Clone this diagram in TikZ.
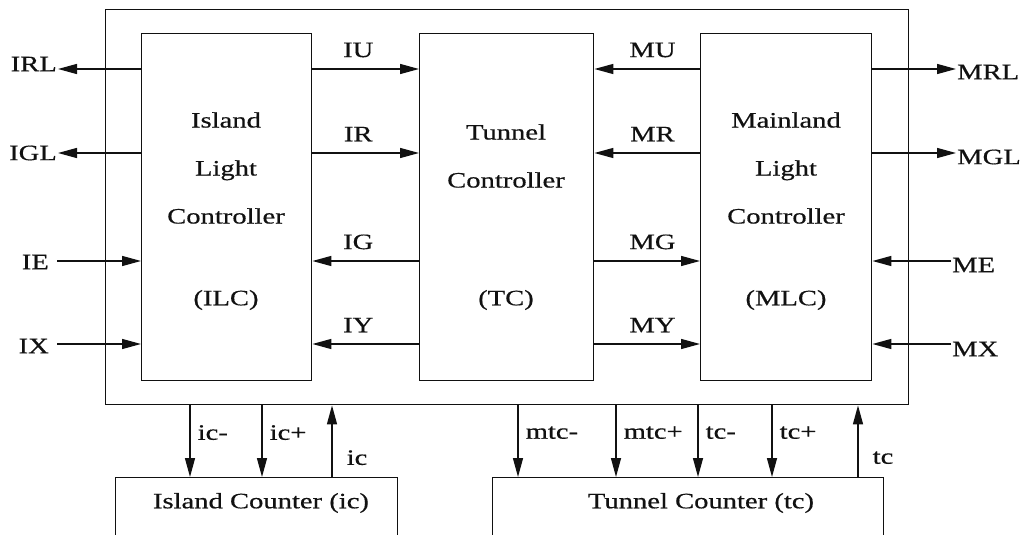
\documentclass[tikz,border=0pt]{standalone}
\usepackage{fontspec}
\setmainfont{Liberation Serif}[FakeStretch=1.3,FakeBold=0.5]
\usepackage{xcolor}
\usepackage{tikz}
\usetikzlibrary{arrows.meta,calc}
\definecolor{ink}{HTML}{111111}
\tikzset{
  blk/.style={draw=ink, line width=1.4pt, inner sep=0pt, anchor=north west},
  sig/.style={-{Triangle[length=19pt,width=10pt]}, line width=1.4pt, draw=ink},
  txt/.style={text=ink, align=center, inner sep=1pt, font=\fontsize{22}{48}\selectfont},
  lbl/.style={text=ink, inner sep=2pt, font=\fontsize{22}{26}\selectfont},
  up/.style={above=9pt}
}

\begin{document}
\begin{tikzpicture}[x=1pt,y=-1pt]
  \useasboundingbox (0,0) rectangle (1026,535);
  \clip (0,0) rectangle (1026,535);

  % system frame, controllers, counters
  \node[blk, minimum width=803pt, minimum height=395pt] (sys) at (105,9) {};
  \node[blk, minimum width=170pt, minimum height=347pt] (ilc) at (141,33) {};
  \node[blk, minimum width=174pt, minimum height=347pt] (tc)  at (419,33) {};
  \node[blk, minimum width=171pt, minimum height=347pt] (mlc) at (700,33) {};
  \node[blk, minimum width=282pt, minimum height=130pt] (iccnt) at (115,477) {};
  \node[blk, minimum width=391pt, minimum height=130pt] (tccnt) at (492,477) {};

  \node[txt] (ilcname) at (226,168) {Island\\Light\\Controller};
  \node[txt] (ilcabbr) at (226,300) {(ILC)};
  \node[txt] (tcname)  at (506,156) {Tunnel\\Controller};
  \node[txt] (tcabbr)  at (506,300) {(TC)};
  \node[txt] (mlcname) at (786,168) {Mainland\\Light\\Controller};
  \node[txt] (mlcabbr) at (786,300) {(MLC)};
  \node[txt] (iclabel) at (261,503) {Island Counter (ic)};
  \node[txt] (tclabel) at (701,503) {Tunnel Counter (tc)};

  \coordinate (r1) at (0,69);
  \coordinate (r2) at (0,153);
  \coordinate (r3) at (0,261);
  \coordinate (r4) at (0,344);

  % island side
  \draw[sig] (ilc.east |- r1) -- (tc.west |- r1) node[lbl, up, pos=0.43] {IU};
  \draw[sig] (ilc.east |- r2) -- (tc.west |- r2) node[lbl, up, pos=0.43] {IR};
  \draw[sig] (tc.west |- r3) -- (ilc.east |- r3) node[lbl, up, pos=0.57] {IG};
  \draw[sig] (tc.west |- r4) -- (ilc.east |- r4) node[lbl, up, pos=0.57] {IY};

  % mainland side
  \draw[sig] (mlc.west |- r1) -- (tc.east |- r1) node[lbl, up, pos=0.45] {MU};
  \draw[sig] (mlc.west |- r2) -- (tc.east |- r2) node[lbl, up, pos=0.45] {MR};
  \draw[sig] (tc.east |- r3) -- (mlc.west |- r3) node[lbl, up, pos=0.55] {MG};
  \draw[sig] (tc.east |- r4) -- (mlc.west |- r4) node[lbl, up, pos=0.55] {MY};

  % outside signals
  \node[lbl, anchor=east, inner sep=1pt] (irl) at (58,64) {IRL};
  \node[lbl, anchor=east, inner sep=1pt] (igl) at (58,153) {IGL};
  \node[lbl, anchor=east, inner xsep=8pt] (ie) at (57,262) {IE};
  \node[lbl, anchor=east, inner xsep=8pt] (ix) at (57,346) {IX};
  \draw[sig] (ilc.west |- r1) -- (irl.east |- r1);
  \draw[sig] (ilc.west |- r2) -- (igl.east |- r2);
  \draw[sig] (ie.east |- r3) -- (ilc.west |- r3);
  \draw[sig] (ix.east |- r4) -- (ilc.west |- r4);

  \node[lbl, anchor=west, inner sep=1pt] (mrl) at (956,72) {MRL};
  \node[lbl, anchor=west, inner sep=1pt] (mgl) at (956,157) {MGL};
  \node[lbl, anchor=west, inner sep=1pt] (me) at (951,265) {ME};
  \node[lbl, anchor=west, inner sep=1pt] (mx) at (951,349) {MX};
  \draw[sig] (mlc.east |- r1) -- (mrl.west |- r1);
  \draw[sig] (mlc.east |- r2) -- (mgl.west |- r2);
  \draw[sig] (me.west |- r3) -- (mlc.east |- r3);
  \draw[sig] (mx.west |- r4) -- (mlc.east |- r4);

  % counters
  \foreach \x/\t in {190/ic-, 262/ic+}
    \draw[sig] (sys.south -| \x,0) -- (iccnt.north -| \x,0)
      node[lbl, right, pos=0.38, xshift=5pt] {\t};
  \draw[sig] (iccnt.north -| 332,0) -- (sys.south -| 332,0)
    node[lbl, right, pos=0.27, xshift=12pt] {ic};
  \foreach \x/\t in {518/mtc-, 616/mtc+, 698/tc-, 772/tc+}
    \draw[sig] (sys.south -| \x,0) -- (tccnt.north -| \x,0)
      node[lbl, right, pos=0.38, xshift=5pt] {\t};
  \draw[sig] (tccnt.north -| 858,0) -- (sys.south -| 858,0)
    node[lbl, right, pos=0.27, xshift=12pt] {tc};
\end{tikzpicture}
\end{document}
